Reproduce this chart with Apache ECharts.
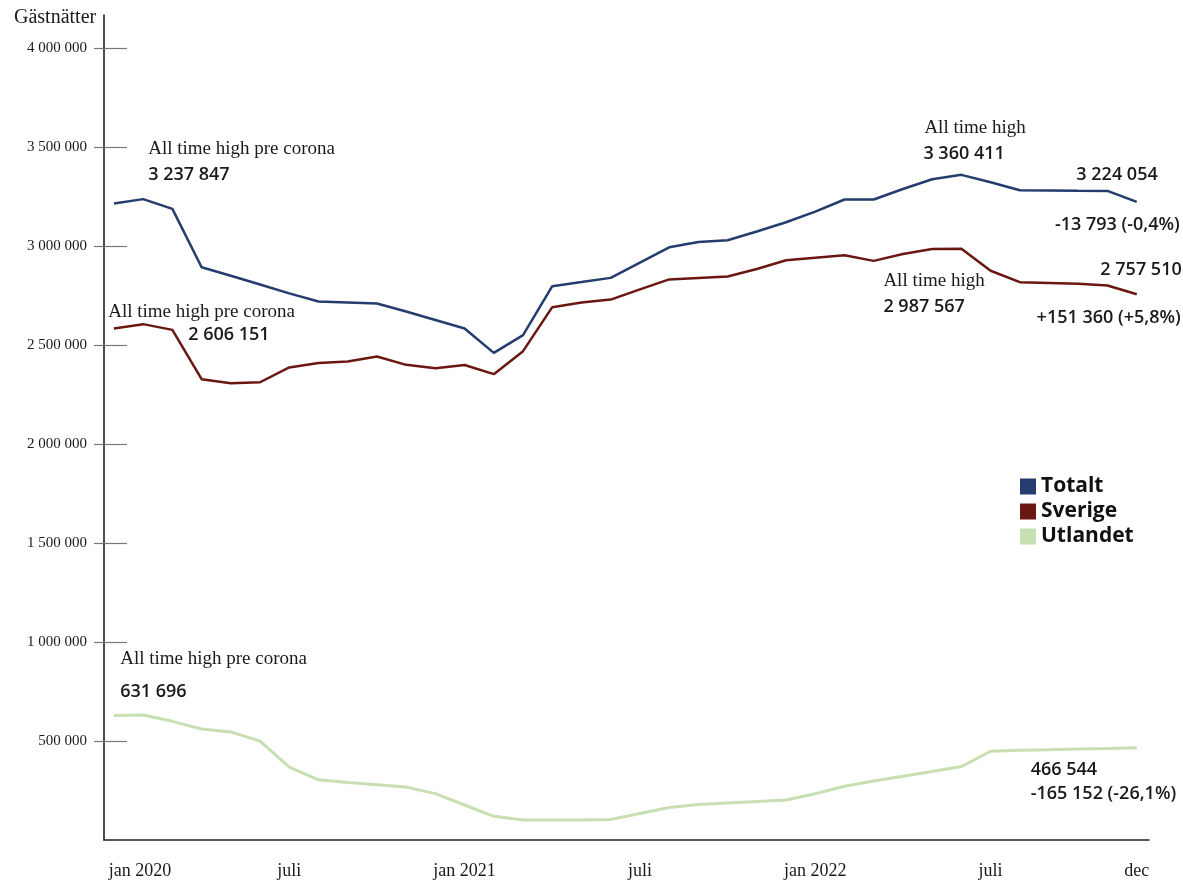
<!DOCTYPE html>
<html>
<head>
<meta charset="utf-8">
<script src="https://cdn.jsdelivr.net/npm/echarts@6/dist/echarts.min.js"></script>
<style>
html,body{margin:0;padding:0;background:#fff;}
#chart{width:1183px;height:881px;}
</style>
</head>
<body>
<div id="chart"></div>
<script>
// ---------- DATA ----------
const months = ['2020-01','2020-02','2020-03','2020-04','2020-05','2020-06','2020-07','2020-08','2020-09','2020-10','2020-11','2020-12',
                '2021-01','2021-02','2021-03','2021-04','2021-05','2021-06','2021-07','2021-08','2021-09','2021-10','2021-11','2021-12',
                '2022-01','2022-02','2022-03','2022-04','2022-05','2022-06','2022-07','2022-08','2022-09','2022-10','2022-11','2022-12'];
const totalt = [3215700,3237847,3188400,2893900,2851000,2806600,2761600,2720700,2715700,2710600,2669700,2626800,
                2583900,2461100,2550500,2798000,2818700,2839900,2917200,2994400,3020700,3029800,3074300,3120700,
                3174300,3235900,3235900,3288900,3337900,3360411,3322700,3282800,3281800,3280300,3279300,3224054];
const sverige = [2584300,2606151,2577300,2328300,2308100,2312600,2387400,2410100,2417200,2443000,2400500,2383800,
                 2400000,2353500,2469700,2691900,2715700,2730300,2781800,2832300,2839900,2847000,2884900,2929300,
                 2941900,2954500,2925800,2960100,2985400,2987567,2875800,2818200,2814600,2810600,2801500,2757510];
const utlandet = [629000,631696,599500,560600,546000,499500,368700,304000,290400,278800,267200,234300,
                  176800,119700,101000,101000,101000,103500,133800,164100,179800,187400,194900,202000,
                  233800,271200,298000,322200,346500,371000,448500,453000,456100,459600,462600,466544];
const seriesNames = ['Totalt','Sverige','Utlandet'];
const xTickIndex = [0,6,12,18,24,30,35];
const xTickLabels = ['jan 2020','juli','jan 2021','juli','jan 2022','juli','dec'];
const yTickValues = [500000,1000000,1500000,2000000,2500000,3000000,3500000,4000000];
const yTitle = 'Gästnätter';

// annotation texts: [series index, month index, text lines]
const annotations = [
  {s:0, m:1,  lines:['All time high pre corona','3 237 847']},
  {s:1, m:1,  lines:['All time high pre corona','2 606 151']},
  {s:2, m:1,  lines:['All time high pre corona','631 696']},
  {s:0, m:29, lines:['All time high','3 360 411']},
  {s:1, m:29, lines:['All time high','2 987 567']},
  {s:0, m:35, lines:['3 224 054','-13 793 (-0,4%)']},
  {s:1, m:35, lines:['2 757 510','+151 360 (+5,8%)']},
  {s:2, m:35, lines:['466 544','-165 152 (-26,1%)']}
];

// ---------- LAYOUT / STYLE ----------
const colors = ['#243d6e','#6b1711','#c8dfb1'];
const serif = '"Liberation Serif", "DejaVu Serif", serif';
const sans = '"Open Sans", "Noto Sans", sans-serif';
const textColor = '#1a1a1a';
// per annotation: offsets (px) of each line relative to the anchor point, and alignment
const annLayout = [
  {align:'left',  l:[{dx:5,  dy:-50, f:'serif'}, {dx:5,  dy:-24, f:'num'}]},
  {align:'left',  l:[{dx:-35,dy:-12, f:'serif'}, {dx:45, dy:11,  f:'num'}]},
  {align:'left',  l:[{dx:-23,dy:-56, f:'serif'}, {dx:-23,dy:-23, f:'num'}]},
  {align:'left',  l:[{dx:-37,dy:-47, f:'serif'}, {dx:-38,dy:-21, f:'num'}]},
  {align:'left',  l:[{dx:-78,dy:32,  f:'serif'}, {dx:-78,dy:58,  f:'num'}]},
  {align:'right', l:[{dx:21, dy:-27, f:'num'},   {dx:43, dy:23,  f:'num'}]},
  {align:'right', l:[{dx:45, dy:-24, f:'num'},   {dx:44, dy:24,  f:'num'}]},
  {align:'left',  l:[{dx:-106,dy:22, f:'num'},   {dx:-106,dy:46, f:'num'}]}
];

function fmt(v){ return String(v).replace(/\B(?=(\d{3})+(?!\d))/g,' '); }

const allData = [totalt, sverige, utlandet];
const chart = echarts.init(document.getElementById('chart'), null, {renderer:'canvas'});

const yMin = 0, yMax = 4168000;
const option = {
  backgroundColor:'#ffffff',
  animation:false,
  color: colors,
  grid:{left:104, right:34, top:15, bottom:41, containLabel:false},
  legend:{
    data: seriesNames.map((n,i)=>({name:n, icon:'rect', itemStyle:{color:colors[i]}})),
    orient:'vertical', left:1020, top:476, padding:0, itemWidth:16, itemHeight:16, itemGap:4,
    selectedMode:false,
    textStyle:{fontFamily:sans, fontWeight:'bold', fontSize:21, color:'#111'}
  },
  xAxis:{
    type:'value', min:-0.34, max:35.42,
    axisLine:{show:true, onZero:false, lineStyle:{color:'#222', width:1.5}},
    axisTick:{show:false},
    splitLine:{show:false},
    axisLabel:{
      customValues: xTickIndex,
      margin:22,
      color:textColor, fontFamily:serif, fontSize:18,
      formatter:function(v){
        const k = xTickIndex.indexOf(Math.round(v));
        if(k<0) return '';
        return k===0 ? '{f|'+xTickLabels[k]+'}' : xTickLabels[k];
      },
      rich:{f:{padding:[0,0,0,52], color:textColor, fontFamily:serif, fontSize:18}}
    }
  },
  yAxis:[{
    type:'value', min:yMin, max:yMax, position:'left',
    axisLine:{show:true, onZero:false, lineStyle:{color:'#111', width:1.5}},
    axisTick:{show:true, inside:true, length:23, customValues:yTickValues, lineStyle:{color:'#777', width:1.2}},
    splitLine:{show:false},
    axisLabel:{customValues:yTickValues, margin:17, color:textColor, fontFamily:serif, fontSize:15, formatter:fmt}
  },{
    type:'value', min:yMin, max:yMax, position:'left',
    axisLine:{show:false, onZero:false},
    axisTick:{show:true, inside:false, length:10, customValues:yTickValues, lineStyle:{color:'#777', width:1.2}},
    splitLine:{show:false},
    axisLabel:{show:false}
  }],
  series: seriesNames.map((n,i)=>({
    name:n, type:'line', yAxisIndex:0,
    data: allData[i].map((v,k)=>[k,v]),
    showSymbol:false, symbol:'none',
    lineStyle:{color:colors[i], width: i===2 ? 3 : 2.5},
    itemStyle:{color:colors[i]},
    z: 3-i
  }))
};
chart.setOption(option);

// y-axis title and annotations anchored on data points
const graphics = [{
  type:'text', left:14, top:8,
  style:{text:yTitle, font:'20px '+serif, fill:textColor}
}];
annotations.forEach((a,idx)=>{
  const p = chart.convertToPixel({gridIndex:0}, [a.m, allData[a.s][a.m]]);
  const L = annLayout[idx];
  a.lines.forEach((t,j)=>{
    const st = L.l[j];
    graphics.push({
      type:'text', x: p[0]+st.dx, y: p[1]+st.dy,
      style:{
        text:t,
        font: st.f==='serif' ? '19px '+serif : '600 18px '+sans,
        fill:textColor, textAlign:L.align, textVerticalAlign:'middle'
      }
    });
  });
});
chart.setOption({graphic:graphics});
</script>
</body>
</html>
